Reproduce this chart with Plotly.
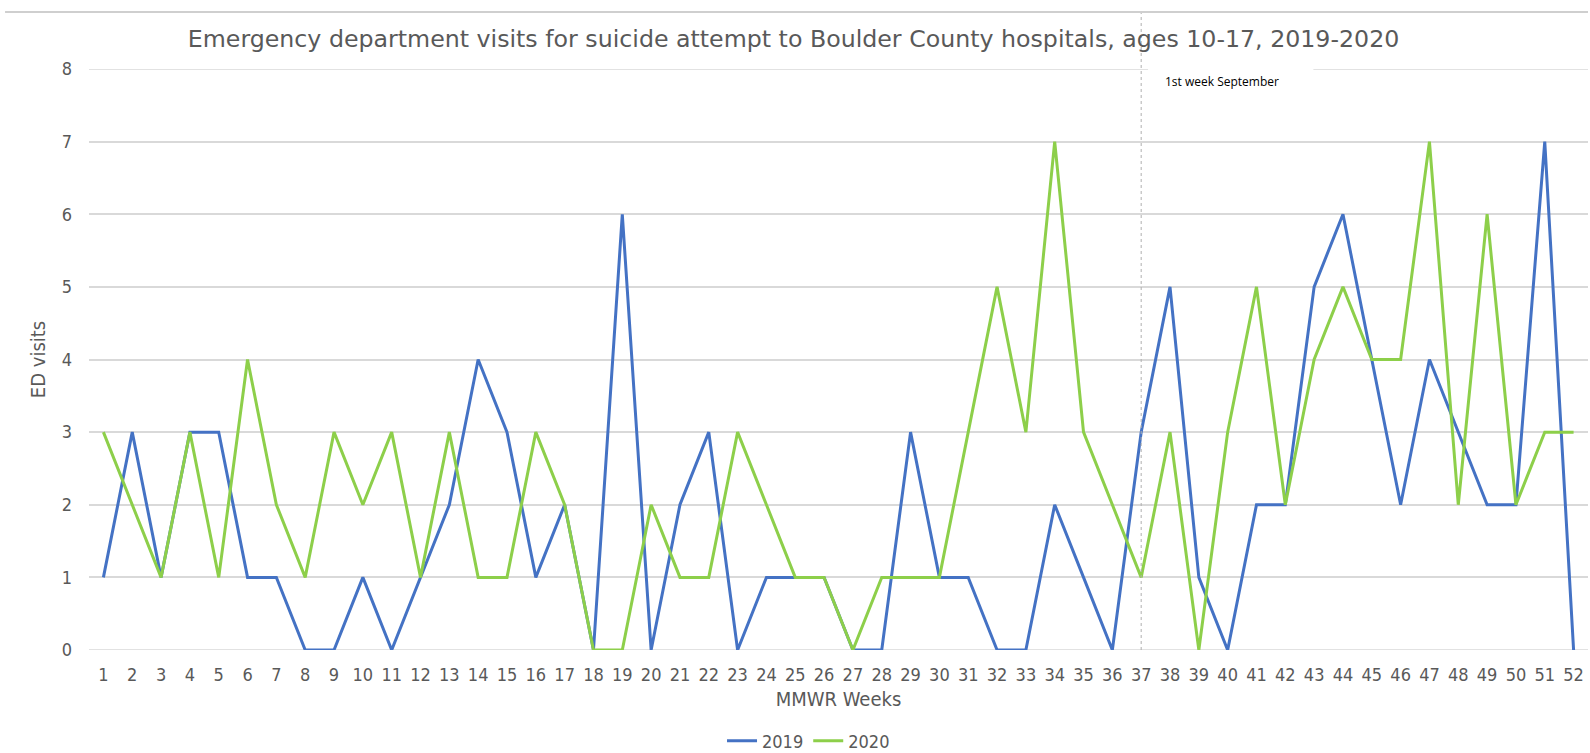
import plotly.graph_objects as go

weeks = list(range(1, 53))
visits_2019 = [1, 3, 1, 3, 3, 1, 1, 0, 0, 1, 0, 1, 2, 4, 3, 1, 2, 0, 6, 0,
               2, 3, 0, 1, 1, 1, 0, 0, 3, 1, 1, 0, 0, 2, 1, 0, 3, 5, 1, 0,
               2, 2, 5, 6, 4, 2, 4, 3, 2, 2, 7, 0]
visits_2020 = [3, 2, 1, 3, 1, 4, 2, 1, 3, 2, 3, 1, 3, 1, 1, 3, 2, 0, 0, 2,
               1, 1, 3, 2, 1, 1, 0, 1, 1, 1, 3, 5, 3, 7, 3, 2, 1, 3, 0, 3,
               5, 2, 4, 5, 4, 4, 7, 2, 6, 2, 3, 3]
september_week = 37
y_ticks = list(range(0, 9))

TICKFONT = "DejaVu Sans Condensed, DejaVu Sans, sans-serif"
TITLEFONT = "DejaVu Sans, sans-serif"
GRAY = "#595959"
GRID = "#d9d9d9"

fig = go.Figure()
fig.add_trace(go.Scatter(x=weeks, y=visits_2019, mode="lines", name="2019",
                         line=dict(color="#4472C4", width=3)))
fig.add_trace(go.Scatter(x=weeks, y=visits_2020, mode="lines", name="2020",
                         line=dict(color="#8DCF4A", width=3)))

# gridlines at range edges (0 and 8)
for yv in (y_ticks[0], y_ticks[-1]):
    fig.add_shape(type="line", xref="paper", yref="y", x0=0, x1=1, y0=yv, y1=yv,
                  line=dict(color=GRID, width=1.5), layer="below")
# vertical marker line
fig.add_shape(type="line", xref="x", yref="paper", x0=september_week, x1=september_week,
              y0=0, y1=1.098, line=dict(color="#b0b0b0", width=1, dash="dot"))
# top border line
fig.add_shape(type="line", xref="paper", yref="paper", x0=-0.056, x1=1.0,
              y0=1.098, y1=1.098, line=dict(color="#cfcfcf", width=2))
# white label box
fig.add_shape(type="rect", xref="paper", yref="paper", x0=0.7065, x1=0.8168,
              y0=0.955, y1=1.016, fillcolor="white", line=dict(width=0), layer="above")
fig.add_annotation(text="1st week September", xref="paper", yref="paper",
                   x=0.7165, y=0.979, xanchor="left", yanchor="middle", showarrow=False,
                   font=dict(family="Open Sans, sans-serif", size=12, color="#000000"))

fig.update_layout(
    width=1590, height=753,
    paper_bgcolor="white", plot_bgcolor="white",
    margin=dict(l=89, r=2, t=69, b=103, autoexpand=False),
    font=dict(family=TICKFONT, color=GRAY),
    title=dict(text="Emergency department visits for suicide attempt to Boulder County hospitals, ages 10-17, 2019-2020",
               x=0.47, xref="paper", xanchor="center", y=1 - 38.5 / 753, yanchor="middle", yref="container",
               font=dict(family=TITLEFONT, size=23.7, color=GRAY)),
    xaxis=dict(range=[0.5, 52.5], tickmode="array", tickvals=weeks,
               ticktext=[str(w) for w in weeks], showgrid=False, zeroline=False,
               showline=False, ticks="", tickfont=dict(size=18, color=GRAY), automargin=False,
               ticklabelstandoff=12,
               title=dict(text="MMWR Weeks", font=dict(size=20, color=GRAY), standoff=7)),
    yaxis=dict(range=[0, 8], tickvals=y_ticks, showgrid=True, gridcolor=GRID, gridwidth=1.5,
               zeroline=False, showline=False, ticks="", ticklabelstandoff=16, automargin=False,
               tickfont=dict(size=18, color=GRAY),
               title=dict(text="ED visits", font=dict(size=20, color=GRAY), standoff=10)),
    legend=dict(orientation="h", x=0.48, xanchor="center", y=-0.1566, yanchor="middle",
                font=dict(size=18, color=GRAY), itemwidth=30),
    showlegend=True,
)

fig.write_html("out.html", config={"displayModeBar": False},
               post_script="document.body.style.margin='0';")
